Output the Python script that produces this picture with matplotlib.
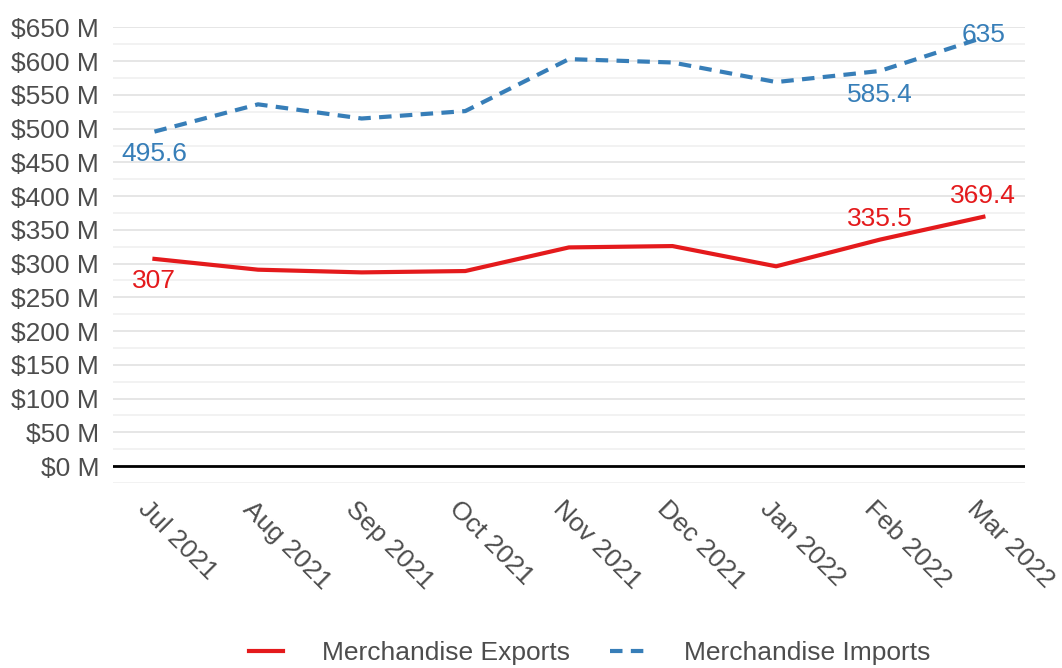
import matplotlib.pyplot as plt
import matplotlib.transforms as mtransforms
from matplotlib.ticker import MultipleLocator, FuncFormatter

months = ['Jul 2021', 'Aug 2021', 'Sep 2021', 'Oct 2021', 'Nov 2021',
          'Dec 2021', 'Jan 2022', 'Feb 2022', 'Mar 2022']
exports = [307, 291, 287, 289, 324, 326, 296, 335.5, 369.4]
imports = [495.6, 536, 515, 526, 603, 598, 569, 585.4, 635]

# which points get a value label, and the vertical offset (points) for it
export_labels = {0: -16, 7: 15, 8: 15}
import_labels = {0: -16, 7: -17, 8: 2}

red = '#e41a1c'
blue = '#377eb8'
plt.rcParams['font.family'] = ['Liberation Sans', 'DejaVu Sans']

fig = plt.figure(figsize=(10.62, 6.68), dpi=100)
ax = fig.add_axes([0.1064, 0.277, 0.8586, 0.683])

x = list(range(len(months)))
ax.plot(x, exports, color=red, lw=3, label='Merchandise Exports', zorder=3)
ax.plot(x, imports, color=blue, lw=3, dashes=(3, 2), label='Merchandise Imports', zorder=3)

for i, dy in export_labels.items():
    v = exports[i]
    ax.annotate(f'{v:g}', (i, v), xytext=(0, dy), textcoords='offset points',
                ha='center', va='center', color=red, fontsize=19, zorder=4)
for i, dy in import_labels.items():
    v = imports[i]
    ax.annotate(f'{v:g}', (i, v), xytext=(0, dy), textcoords='offset points',
                ha='center', va='center', color=blue, fontsize=19, zorder=4)

ax.set_xlim(-0.4, len(months) - 0.6)
ax.set_ylim(-25, 651)
ax.yaxis.set_major_locator(MultipleLocator(50))
ax.yaxis.set_minor_locator(MultipleLocator(25))
ax.yaxis.set_major_formatter(FuncFormatter(lambda v, p: f'${v:.0f} M' if v >= 0 else ''))
ax.grid(True, which='major', axis='y', color='#e6e6e6', lw=1.4)
ax.grid(True, which='minor', axis='y', color='#efefef', lw=1.1)
ax.set_axisbelow(True)
ax.axhline(0, color='black', lw=2, zorder=2)

for s in ax.spines.values():
    s.set_visible(False)
ax.tick_params(axis='both', which='both', length=0)
ax.tick_params(axis='y', labelsize=19, labelcolor='#4d4d4d', pad=10)
ax.set_xticks(x)
ax.set_xticklabels(months, rotation=-45, ha='left', va='center',
                   rotation_mode='anchor', fontsize=19, color='#4d4d4d')
ax.tick_params(axis='x', pad=16)
shift = mtransforms.ScaledTranslation(-12 / 100, 0, fig.dpi_scale_trans)
for lbl in ax.get_xticklabels():
    lbl.set_transform(lbl.get_transform() + shift)

fig.legend(loc='center', bbox_to_anchor=(0.555, 0.022), ncol=2, frameon=False,
           fontsize=19, handlelength=1.3, handletextpad=1.5, columnspacing=1.5,
           labelcolor='#4d4d4d')

fig.savefig('out.png', dpi=100)
